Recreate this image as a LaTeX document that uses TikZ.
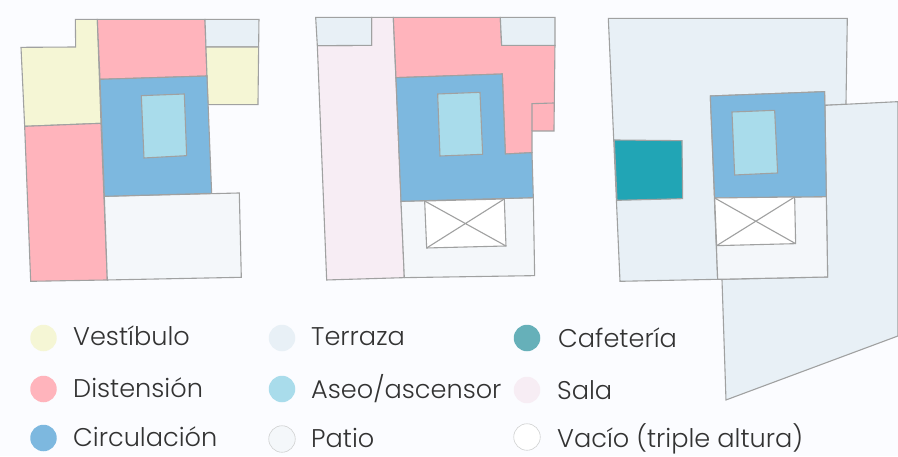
\documentclass[tikz,border=0pt]{standalone}
\usepackage{fontspec}
\setmainfont{Poppins Light}
\definecolor{bgc}{HTML}{FBFCFF}
\definecolor{yel}{HTML}{F5F6D5}
\definecolor{pnk}{HTML}{FFB4BC}
\definecolor{blu}{HTML}{7DB8DF}
\definecolor{lbl}{HTML}{A9DCEB}
\definecolor{ter}{HTML}{E8F0F6}
\definecolor{pat}{HTML}{F4F7FA}
\definecolor{tea}{HTML}{21A5B5}
\definecolor{lte}{HTML}{66B0B9}
\definecolor{sal}{HTML}{F7EDF4}
\definecolor{edge}{HTML}{A0A1A1}
\definecolor{txt}{HTML}{333333}
\tikzset{
  room/.style={draw=edge,line width=1.1pt,line join=miter},
  swatch/.style={circle,minimum size=26.5pt,inner sep=0pt,outer sep=0pt},
  legtext/.style={anchor=base west,inner sep=0pt,text=txt,font=\fontsize{25.6}{30}\selectfont}
}
\begin{document}
\begin{tikzpicture}[x=1pt,y=-1pt]
\useasboundingbox (0,0) rectangle (898,456);
\fill[bgc] (0,0) rectangle (898,456);
% Plan 1
\begin{scope}[shift={(0,0)},x=0.3333pt,y=-0.3333pt]
\filldraw[room,fill=yel] (226,58)--(292,58)--(303,370)--(74,379)--(63,142)--(227,141)--cycle;
\filldraw[room,fill=pnk] (292,58)--(615,58)--(621,228)--(300,238)--cycle;
\filldraw[room,fill=ter] (615,58)--(777,58)--(776,141)--(618,141)--cycle;
\filldraw[room,fill=yel] (618,141)--(776,141)--(774,314)--(624,314)--cycle;
\filldraw[room,fill=pnk] (74,379)--(303,370)--(322,840)--(92,844)--cycle;
\filldraw[room,fill=pat] (313,589)--(718,579)--(724,832)--(322,840)--cycle;
\filldraw[room,fill=blu] (300,238)--(621,228)--(635,580)--(313,589)--cycle;
\filldraw[room,fill=lbl] (424,287)--(553,282)--(560,467)--(432,474)--cycle;
\end{scope}
% Plan 2
\begin{scope}[shift={(300,0)},x=0.3333pt,y=-0.3333pt]
\filldraw[room,fill=sal] (215,52)--(280,52)--(313,833)--(80,840)--(52,137)--(215,136)--cycle;
\filldraw[room,fill=ter] (47,52)--(215,52)--(215,136)--(52,137)--cycle;
\filldraw[room,fill=pnk] (280,52)--(601,52)--(605,136)--(765,136)--(762,393)--(696,393)--(696,458)--(616,462)--(607,222)--(288,233)--cycle;
\draw[room] (696,393)--(696,311)--(762,309);
\filldraw[room,fill=ter] (601,52)--(765,52)--(765,136)--(605,136)--cycle;
\filldraw[room,fill=pat] (303,604)--(700,593)--(704,827)--(313,833)--cycle;
\filldraw[room,fill=blu] (288,233)--(607,222)--(616,462)--(696,458)--(700,593)--(303,604)--cycle;
\filldraw[room,fill=lbl] (413,282)--(540,277)--(548,463)--(420,468)--cycle;
\filldraw[room,fill=white] (374,603)--(613,597)--(618,738)--(380,744)--cycle;
\draw[room] (374,603)--(618,738) (613,597)--(380,744);
\end{scope}
% Plan 3
\begin{scope}[shift={(598,0)},x=0.3333pt,y=-0.3333pt]
\filldraw[room,fill=ter] (31,55)--(748,55)--(744,313)--(680,316)--(680,275)--(337,288)--(359,838)--(66,844)--cycle;
\filldraw[room,fill=ter] (681,316)--(900,305)--(900,1008)--(384,1200)--(372,838)--(689,831)--(685,590)--cycle;
\filldraw[room,fill=tea] (49,420)--(252,422)--(254,596)--(57,601)--cycle;
\filldraw[room,fill=pat] (350,594)--(685,590)--(689,831)--(359,838)--cycle;
\filldraw[room,fill=blu] (337,288)--(680,275)--(685,590)--(350,594)--cycle;
\filldraw[room,fill=lbl] (402,336)--(530,331)--(539,519)--(410,525)--cycle;
\filldraw[room,fill=white] (350,594)--(590,591)--(593,731)--(356,737)--cycle;
\draw[room] (350,594)--(593,731) (590,591)--(356,737);
\end{scope}
% Legend
\node[swatch,fill=yel] (s1) at (43.5,338) {};
\node[swatch,fill=pnk] (s2) at (43.5,389) {};
\node[swatch,fill=blu] (s3) at (43.5,438) {};
\node[swatch,fill=ter] (s4) at (282,338) {};
\node[swatch,fill=lbl] (s5) at (282,389) {};
\node[swatch,fill=pat,draw=edge!50,line width=0.6pt] (s6) at (282,439) {};
\node[swatch,fill=lte] (s7) at (527,338) {};
\node[swatch,fill=sal] (s8) at (527,390) {};
\node[swatch,fill=white,draw=edge!50,line width=0.6pt] (s9) at (527,437) {};
\node[legtext] (t1) at (73,345.5) {Vestíbulo};
\node[legtext] (t2) at (73,397.5) {Distensión};
\node[legtext] (t3) at (73,446.5) {Circulación};
\node[legtext] (t4) at (311,345.5) {Terraza};
\node[legtext] (t5) at (311,398) {Aseo/ascensor};
\node[legtext] (t6) at (311,447.5) {Patio};
\node[legtext] (t7) at (558,347) {Cafetería};
\node[legtext] (t8) at (557,399) {Sala};
\node[legtext] (t9) at (557,447) {Vacío (triple altura)};
\end{tikzpicture}
\end{document}
